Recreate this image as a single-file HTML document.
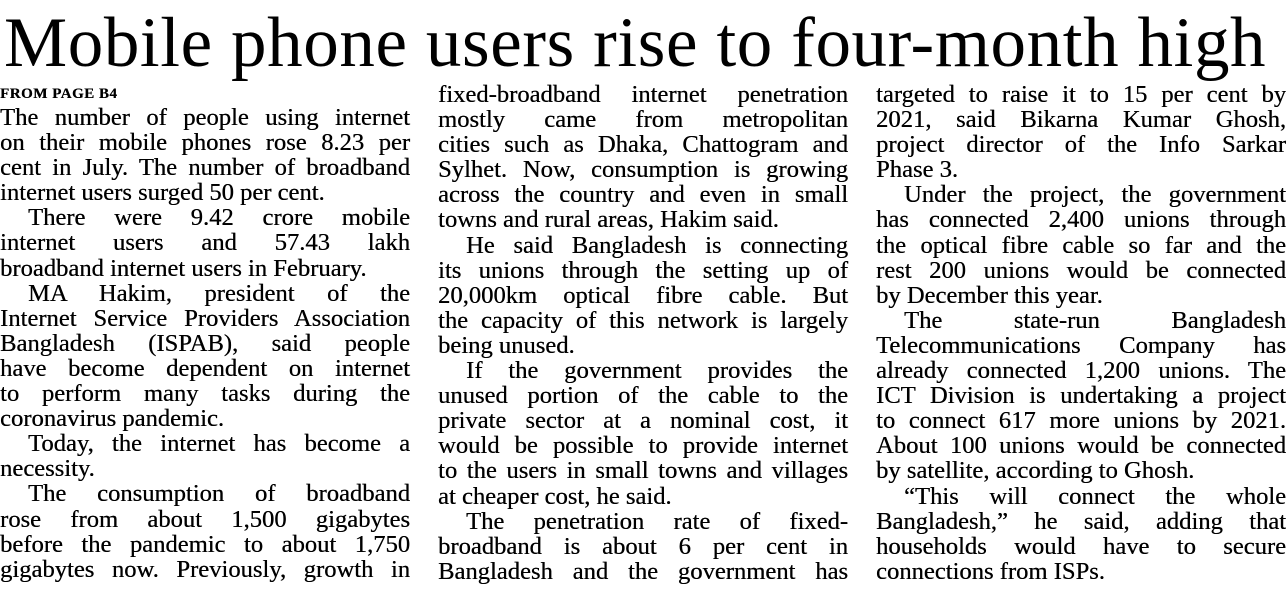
<!DOCTYPE html>
<html><head><meta charset="utf-8">
<style>
body{margin:0;width:1286px;height:590px;background:#fff;overflow:hidden;position:relative;font-family:"Liberation Serif",serif;color:#000}
h1{position:absolute;left:4px;top:3px;margin:0;font-weight:normal;font-size:71px;line-height:80px;white-space:nowrap;letter-spacing:0.6px}
.col{position:absolute;width:410px;font-size:24.6px;line-height:25.1px;text-shadow:0.3px 0 0 #000}
.col div{text-align:justify;text-align-last:justify;white-space:nowrap;overflow:visible;height:25.1px}
.col div.l{text-align-last:left}
.col div.i{text-indent:28px}
.fp{font-size:15px;font-weight:bold;letter-spacing:0.5px}
</style></head><body>
<h1>Mobile phone users rise to four-month high</h1>
<div class="col" style="left:0;top:84px">
<div class="l fp" style="height:21px;line-height:21px">FROM PAGE B4</div>
<div>The number of people using internet</div>
<div>on their mobile phones rose 8.23 per</div>
<div>cent in July. The number of broadband</div>
<div class="l">internet users surged 50 per cent.</div>
<div class="i">There were 9.42 crore mobile</div>
<div>internet users and 57.43 lakh</div>
<div class="l">broadband internet users in February.</div>
<div class="i">MA Hakim, president of the</div>
<div>Internet Service Providers Association</div>
<div>Bangladesh (ISPAB), said people</div>
<div>have become dependent on internet</div>
<div>to perform many tasks during the</div>
<div class="l">coronavirus pandemic.</div>
<div class="i">Today, the internet has become a</div>
<div class="l">necessity.</div>
<div class="i">The consumption of broadband</div>
<div>rose from about 1,500 gigabytes</div>
<div>before the pandemic to about 1,750</div>
<div>gigabytes now. Previously, growth in</div>
</div>
<div class="col" style="left:438px;top:82px">
<div>fixed-broadband internet penetration</div>
<div>mostly came from metropolitan</div>
<div>cities such as Dhaka, Chattogram and</div>
<div>Sylhet. Now, consumption is growing</div>
<div>across the country and even in small</div>
<div class="l">towns and rural areas, Hakim said.</div>
<div class="i">He said Bangladesh is connecting</div>
<div>its unions through the setting up of</div>
<div>20,000km optical fibre cable. But</div>
<div>the capacity of this network is largely</div>
<div class="l">being unused.</div>
<div class="i">If the government provides the</div>
<div>unused portion of the cable to the</div>
<div>private sector at a nominal cost, it</div>
<div>would be possible to provide internet</div>
<div>to the users in small towns and villages</div>
<div class="l">at cheaper cost, he said.</div>
<div class="i">The penetration rate of fixed-</div>
<div>broadband is about 6 per cent in</div>
<div>Bangladesh and the government has</div>
</div>
<div class="col" style="left:876px;top:82px">
<div>targeted to raise it to 15 per cent by</div>
<div>2021, said Bikarna Kumar Ghosh,</div>
<div>project director of the Info Sarkar</div>
<div class="l">Phase 3.</div>
<div class="i">Under the project, the government</div>
<div>has connected 2,400 unions through</div>
<div>the optical fibre cable so far and the</div>
<div>rest 200 unions would be connected</div>
<div class="l">by December this year.</div>
<div class="i">The state-run Bangladesh</div>
<div>Telecommunications Company has</div>
<div>already connected 1,200 unions. The</div>
<div>ICT Division is undertaking a project</div>
<div>to connect 617 more unions by 2021.</div>
<div>About 100 unions would be connected</div>
<div class="l">by satellite, according to Ghosh.</div>
<div class="i">“This will connect the whole</div>
<div>Bangladesh,” he said, adding that</div>
<div>households would have to secure</div>
<div class="l">connections from ISPs.</div>
</div>
</body></html>
